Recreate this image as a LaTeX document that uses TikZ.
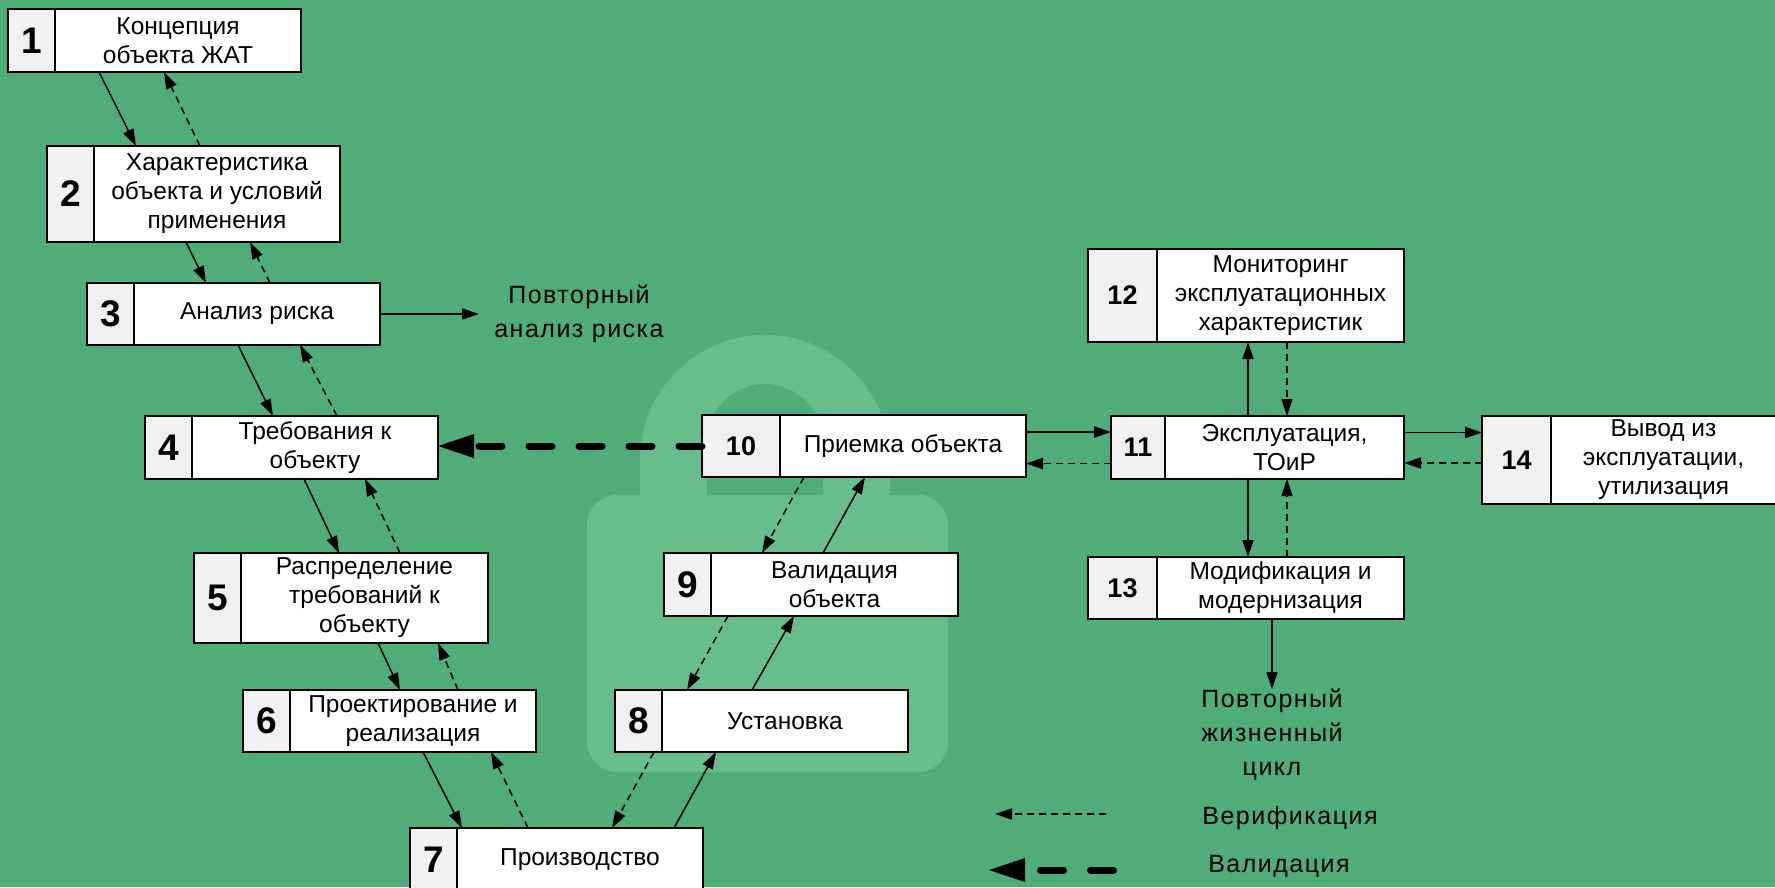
\documentclass[tikz,border=0pt]{standalone}
\usepackage{fontspec}
\setmainfont{Liberation Sans}
\newfontfamily\spacedfont[LetterSpace=6]{Liberation Sans}
\usetikzlibrary{positioning, arrows.meta}

\definecolor{bggreen}{RGB}{80,173,121}
\definecolor{lockgreen}{RGB}{103,190,140}
\definecolor{cellgray}{RGB}{240,240,240}

\tikzstyle{numcell} = [rectangle, draw=black, line width=1.8pt, fill=cellgray, inner sep=0pt, outer sep=0pt, anchor=north west, font=\bfseries\fontsize{37}{40}\selectfont]
\tikzstyle{numsmall} = [font=\bfseries\fontsize{27}{30}\selectfont]
\tikzstyle{textcell} = [rectangle, draw=black, line width=1.8pt, fill=white, inner sep=0pt, outer sep=0pt, minimum width=246pt, align=center, font=\fontsize{24.5}{29}\selectfont]
\tikzstyle{note} = [align=center, inner sep=0pt, font=\spacedfont\fontsize{25}{34}\selectfont]
\tikzstyle{arrow} = [line width=1.5pt, -{Triangle[length=17pt,width=11pt]}]
\tikzstyle{verif} = [arrow, dash pattern=on 7pt off 5pt]
\tikzstyle{valid} = [line width=7pt, line cap=round, dash pattern=on 23pt off 27pt, -{Triangle[length=36pt,width=24pt,line width=0pt]}]

\begin{document}
\begin{tikzpicture}[x=1pt, y=-1pt]
\useasboundingbox (0,0) rectangle (1775,887);
\clip (0,0) rectangle (1775,887);
\fill[bggreen] (0,0) rectangle (1775,887);
\fill[lockgreen, rounded corners=30pt] (587,495) rectangle (948,772);
\fill[lockgreen] (640,500) -- (640,460) arc[start angle=180, end angle=0, radius=125pt] -- (890,500) -- cycle;
\fill[bggreen] (707,495) -- (707,442) arc[start angle=180, end angle=0, radius=58pt] -- (823,495) -- cycle;

\node (n1) [numcell, minimum width=47pt, minimum height=63pt] at (8,9) {1};
\node (b1) [textcell, minimum height=63pt, right=0pt of n1] {Концепция\\объекта ЖАТ};
\node (n2) [numcell, minimum width=47pt, minimum height=96pt] at (47,146) {2};
\node (b2) [textcell, minimum height=96pt, right=0pt of n2] {Характеристика\\объекта и условий\\применения};
\node (n3) [numcell, minimum width=47pt, minimum height=62pt] at (87,283) {3};
\node (b3) [textcell, minimum height=62pt, right=0pt of n3] {Анализ риска};
\node (n4) [numcell, minimum width=47pt, minimum height=63pt] at (145,416) {4};
\node (b4) [textcell, minimum height=63pt, right=0pt of n4] {Требования к\\объекту};
\node (n5) [numcell, minimum width=47pt, minimum height=90pt] at (194,553) {5};
\node (b5) [textcell, minimum width=247pt, minimum height=90pt, right=0pt of n5] {Распределение\\требований к\\объекту};
\node (n6) [numcell, minimum width=47pt, minimum height=62pt] at (243,690) {6};
\node (b6) [textcell, minimum height=62pt, right=0pt of n6] {Проектирование и\\реализация};
\node (n7) [numcell, minimum width=47pt, minimum height=63pt] at (410,828) {7};
\node (b7) [textcell, minimum height=63pt, right=0pt of n7] {Производство};
\node (n8) [numcell, minimum width=47pt, minimum height=62pt] at (615,690) {8};
\node (b8) [textcell, minimum height=62pt, right=0pt of n8] {Установка};
\node (n9) [numcell, minimum width=47pt, minimum height=63pt] at (664,553) {9};
\node (b9) [textcell, minimum width=247pt, minimum height=63pt, right=0pt of n9] {Валидация\\объекта};
\node (n10) [numcell, numsmall, minimum width=78pt, minimum height=62pt] at (702,415) {10};
\node (b10) [textcell, minimum height=62pt, right=0pt of n10] {Приемка объекта};
\node (n11) [numcell, numsmall, minimum width=54pt, minimum height=63pt] at (1111,416) {11};
\node (b11) [textcell, minimum width=239pt, minimum height=63pt, right=0pt of n11] {Эксплуатация,\\ТОиР};
\node (n12) [numcell, numsmall, minimum width=69pt, minimum height=93pt] at (1088,249) {12};
\node (b12) [textcell, minimum width=247pt, minimum height=93pt, right=0pt of n12] {Мониторинг\\эксплуатационных\\характеристик};
\node (n13) [numcell, numsmall, minimum width=69pt, minimum height=62pt] at (1088,557) {13};
\node (b13) [textcell, minimum width=247pt, minimum height=62pt, right=0pt of n13] {Модификация и\\модернизация};
\node (n14) [numcell, numsmall, minimum width=69pt, minimum height=88pt] at (1482,416) {14};
\node (b14) [textcell, minimum width=225pt, minimum height=88pt, right=0pt of n14] {Вывод из\\эксплуатации,\\утилизация};

\node (rep1) [note] at (579,314) {Повторный\\анализ риска};
\node (rep2) [note, anchor=north] at (1272,689) {Повторный\\жизненный\\цикл};
\node (lver) [note] at (1290,818) {Верификация};
\node (lval) [note] at (1279,866) {Валидация};
\coordinate (lv1) at (1106,814);
\coordinate (lv2) at (995,814);
\coordinate (lw1) at (1113.5,870);
\coordinate (lw2) at (989,870);

\draw [arrow] ([xshift=44pt]b1.south west) -- ([xshift=42pt]b2.north west);
\draw [verif] ([xshift=106pt]b2.north west) -- ([xshift=109pt]b1.south west);
\draw [arrow] ([xshift=92pt]b2.south west) -- ([xshift=72pt]b3.north west);
\draw [verif] ([xshift=136pt]b3.north west) -- ([xshift=156pt]b2.south west);
\draw [arrow] ([xshift=104pt]b3.south west) -- ([xshift=81pt]b4.north west);
\draw [verif] ([xshift=145pt]b4.north west) -- ([xshift=166pt]b3.south west);
\draw [arrow] ([xshift=112pt]b4.south west) -- ([xshift=98pt]b5.north west);
\draw [verif] ([xshift=159pt]b5.north west) -- ([xshift=173pt]b4.south west);
\draw [arrow] ([xshift=137pt]b5.south west) -- ([xshift=110pt]b6.north west);
\draw [verif] ([xshift=168pt]b6.north west) -- ([xshift=197pt]b5.south west);
\draw [arrow] ([xshift=133pt]b6.south west) -- ([xshift=5pt]b7.north west);
\draw [verif] ([xshift=71pt]b7.north west) -- ([xshift=201pt]b6.south west);
\draw [arrow] ([xshift=217pt]b7.north west) -- ([xshift=54pt]b8.south west);
\draw [verif] ([xshift=39pt]n8.south west) -- ([xshift=155pt]b7.north west);
\draw [arrow] ([xshift=90pt]b8.north west) -- ([xshift=83pt]b9.south west);
\draw [verif] ([xshift=17pt]b9.south west) -- ([xshift=25pt]b8.north west);
\draw [arrow] ([xshift=112pt]b9.north west) -- ([xshift=85pt]b10.south west);
\draw [verif] ([xshift=24pt]b10.south west) -- ([xshift=51pt]b9.north west);

\draw [valid] (n10.west) -- (n10.west -| b4.east);
\draw [arrow] ([yshift=14pt]b10.east) -- ([yshift=14pt]b10.east -| n11.west);
\draw [verif] ([yshift=-16pt]n11.west) -- ([yshift=-16pt]n11.west -| b10.east);
\draw [arrow] ([xshift=83pt]b11.north west) -- ([xshift=83pt]b11.north west |- b12.south);
\draw [verif] ([xshift=130pt]b12.south west) -- ([xshift=130pt]b12.south west |- b11.north);
\draw [arrow] ([xshift=83pt]b11.south west) -- ([xshift=83pt]b11.south west |- b13.north);
\draw [verif] ([xshift=130pt]b13.north west) -- ([xshift=130pt]b13.north west |- b11.south);
\draw [arrow] ([yshift=15pt]b11.east) -- ([yshift=15pt]b11.east -| n14.west);
\draw [verif] ([yshift=-3pt]n14.west) -- ([yshift=-3pt]n14.west -| b11.east);
\draw [arrow] (b3.east) -- ([xshift=99pt]b3.east);
\draw [arrow] ([xshift=115pt]b13.south west) -- ([xshift=115pt]b13.south west |- rep2.north);

\draw [verif] (lv1) -- (lv2);
\draw [valid] (lw1) -- (lw2);
\end{tikzpicture}
\end{document}
